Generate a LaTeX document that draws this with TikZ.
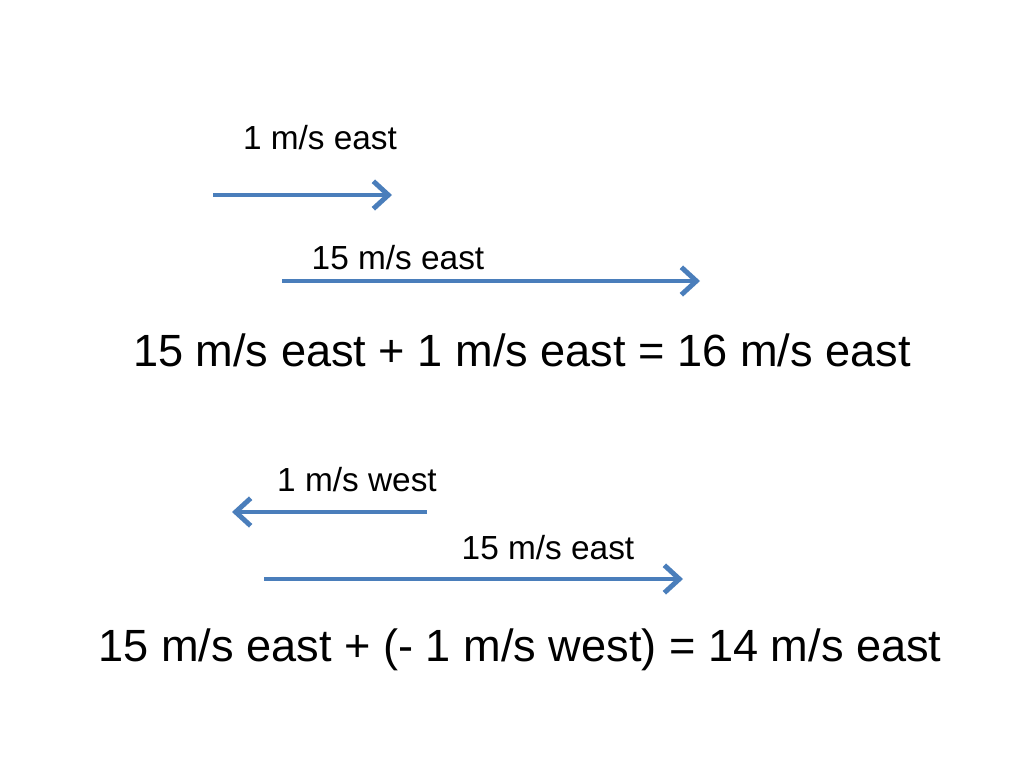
\documentclass[tikz,border=0pt]{standalone}
\usepackage{fontspec}
\setmainfont{Liberation Sans}
\usetikzlibrary{arrows.meta}
\definecolor{vecblue}{HTML}{4A7EBB}
\tikzset{
  vec/.style={draw=vecblue, line width=2.8pt, -{Straight Barb[length=3mm, width=5.5mm, line width=2.8pt]}},
  lbl/.style={font=\fontsize{19}{22}\selectfont},
  eqn/.style={font=\fontsize{25.7}{30}\selectfont}
}
\begin{document}
\begin{tikzpicture}[x=0.02cm, y=-0.02cm]
\useasboundingbox (0,0) rectangle (1024,768);

% first sum
\coordinate (a1s) at (213,195);
\coordinate (a1e) at (392,195);
\node[lbl] (l1) at (320,138) {1 m/s east};
\draw[vec] (a1s) -- (a1e);

\coordinate (a2s) at (282,281);
\coordinate (a2e) at (700,281);
\node[lbl] (l2) at (398,258) {15 m/s east};
\draw[vec] (a2s) -- (a2e);

\node[eqn] (eq1) at (522,350) {15 m/s east + 1 m/s east = 16 m/s east};

% second sum
\coordinate (a3s) at (427,512);
\coordinate (a3e) at (232,512);
\node[lbl] (l3) at (357,480) {1 m/s west};
\draw[vec] (a3s) -- (a3e);

\coordinate (a4s) at (264,579);
\coordinate (a4e) at (683,579);
\node[lbl] (l4) at (548,548) {15 m/s east};
\draw[vec] (a4s) -- (a4e);

\node[eqn] (eq2) at (520,650) {15 m/s east + (- 1 m/s west) = 14 m/s east};

\end{tikzpicture}
\end{document}
